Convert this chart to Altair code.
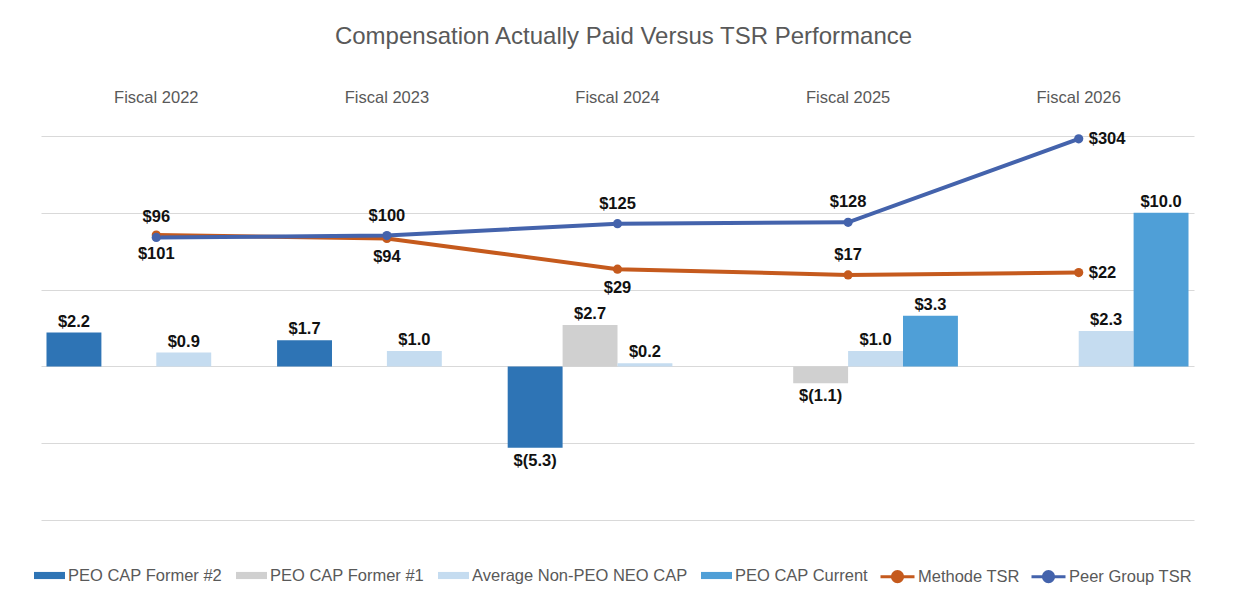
import altair as alt
import pandas as pd

# ---- data ----
fiscal_years = ["Fiscal 2022", "Fiscal 2023", "Fiscal 2024", "Fiscal 2025", "Fiscal 2026"]

bar_series = ["PEO CAP Former #2", "PEO CAP Former #1", "Average Non-PEO NEO CAP", "PEO CAP Current"]
peo_former2 = [2.2, 1.7, -5.3, None, None]
peo_former1 = [None, None, 2.7, -1.1, None]
avg_non_peo = [0.9, 1.0, 0.2, 1.0, 2.3]
peo_current = [None, None, None, 3.3, 10.0]

line_series = ["Methode TSR", "Peer Group TSR"]
methode_tsr = [101, 94, 29, 17, 22]
peer_tsr = [96, 100, 125, 128, 304]

# label placement (style, not data)
methode_label_pos = ["below", "below", "below", "above", "right"]
peer_label_pos = ["above", "above", "above", "above", "right"]

bar_colors = ["#2E74B5", "#D0D0D0", "#C5DCF0", "#4F9FD7"]
line_colors = ["#C55A1D", "#4463AC"]

FONT = "Liberation Sans, Arial, sans-serif"
GREY = "#595959"


def fmt_money(v):
    return f"${v:.1f}" if v >= 0 else f"$({abs(v):.1f})"


bar_rows = []
for s, vals in zip(bar_series, [peo_former2, peo_former1, avg_non_peo, peo_current]):
    for f, v in zip(fiscal_years, vals):
        if v is not None:
            bar_rows.append({"fiscal": f, "series": s, "value": v, "label": fmt_money(v)})
bar_df = pd.DataFrame(bar_rows)

line_rows = []
for s, vals, pos in zip(line_series, [methode_tsr, peer_tsr], [methode_label_pos, peer_label_pos]):
    for f, v, p in zip(fiscal_years, vals, pos):
        line_rows.append({"fiscal": f, "series": s, "tsr": v, "label": f"${v}", "pos": p})
line_df = pd.DataFrame(line_rows)

x_enc = alt.X(
    "fiscal:N",
    sort=fiscal_years,
    scale=alt.Scale(domain=fiscal_years, paddingInner=0, paddingOuter=0),
    axis=alt.Axis(
        orient="top", title=None, domain=False, ticks=False, tickSize=0, grid=False,
        labelPadding=31, labelFontSize=16.5, labelColor=GREY, labelFont=FONT,
        labelAngle=0,
    ),
)
xoff = alt.XOffset("series:N", scale=alt.Scale(domain=bar_series, paddingInner=0, paddingOuter=0.1))
y_bar = alt.Y(
    "value:Q",
    scale=alt.Scale(domain=[-10, 15], nice=False, zero=False),
    axis=alt.Axis(
        title=None, labels=False, ticks=False, domain=False, grid=True,
        values=[-10, -5, 0, 5, 10, 15], gridColor="#D9D9D9", gridWidth=1,
    ),
)

bars = alt.Chart(bar_df).mark_bar().encode(
    x=x_enc,
    xOffset=xoff,
    y=y_bar,
    color=alt.Color(
        "series:N",
        scale=alt.Scale(domain=bar_series, range=bar_colors),
        legend=alt.Legend(
            title=None, orient="none", legendX=-7, legendY=424,
            direction="horizontal", columns=4,
            symbolType="M-1,-0.23H1V0.23H-1Z", symbolSize=961, symbolStrokeWidth=0,
            labelFontSize=16.5, labelColor=GREY, labelFont=FONT, labelOffset=3,
            columnPadding=13, labelLimit=400,
        ),
    ),
)

bar_text_base = alt.Chart(bar_df).encode(
    x=x_enc,
    xOffset=xoff,
    y=y_bar,
    text="label:N",
)
bar_lab_pos = bar_text_base.mark_text(
    baseline="alphabetic", dy=-6, fontSize=16.5, fontWeight="bold", font=FONT, color="#111111"
).transform_filter("datum.value >= 0")
bar_lab_neg = bar_text_base.mark_text(
    baseline="alphabetic", dy=18, fontSize=16.5, fontWeight="bold", font=FONT, color="#111111"
).transform_filter("datum.value < 0")

bar_layer = alt.layer(bars, bar_lab_pos, bar_lab_neg)

y_line = alt.Y("tsr:Q", scale=alt.Scale(domain=[-500, 310], nice=False, zero=False), axis=None)
line_color = alt.Color(
    "series:N",
    scale=alt.Scale(domain=line_series, range=line_colors),
    legend=alt.Legend(
        title=None, orient="none", legendX=838, legendY=422,
        direction="horizontal", columns=2,
        symbolType="M-1,0H1M-0.3,0A0.3,0.3 0 1,1 0.3,0A0.3,0.3 0 1,1 -0.3,0Z",
        symbolSize=1156, symbolStrokeWidth=3,
        labelFontSize=16.5, labelColor=GREY, labelFont=FONT, labelOffset=2,
        columnPadding=5, labelLimit=400,
    ),
)

lines = alt.Chart(line_df).mark_line(strokeWidth=4).encode(
    x=x_enc, y=y_line, color=line_color
)
points = alt.Chart(line_df).mark_point(filled=True, size=85, opacity=1).encode(
    x=x_enc, y=y_line, color=line_color
)
lt_base = alt.Chart(line_df).encode(x=x_enc, y=y_line, text="label:N")
lt_above = lt_base.mark_text(
    baseline="middle", dy=-20, fontSize=16.5, fontWeight="bold", font=FONT, color="#111111"
).transform_filter("datum.pos == 'above'")
lt_below = lt_base.mark_text(
    baseline="middle", dy=19, fontSize=16.5, fontWeight="bold", font=FONT, color="#111111"
).transform_filter("datum.pos == 'below'")
lt_right = lt_base.mark_text(
    baseline="middle", align="left", dx=10, fontSize=16.5, fontWeight="bold", font=FONT, color="#111111"
).transform_filter("datum.pos == 'right'")

line_layer = alt.layer(lines, points, lt_above, lt_below, lt_right)

chart = (
    alt.layer(bar_layer, line_layer)
    .resolve_scale(y="independent", color="independent")
    .properties(
        width=1153,
        height=384,
        background="white",
        title=alt.TitleParams(
            "Compensation Actually Paid Versus TSR Performance",
            fontSize=24, font=FONT, color=GREY, fontWeight="normal",
            anchor="middle", offset=40, dx=6,
        ),
        autosize=alt.AutoSizeParams(type="none"),
        padding={"left": 33, "top": 128, "right": 42, "bottom": 82},
    )
    .configure_view(stroke="transparent", strokeWidth=0)
)

chart.save("out.html", embed_options={"renderer": "svg", "actions": False})
